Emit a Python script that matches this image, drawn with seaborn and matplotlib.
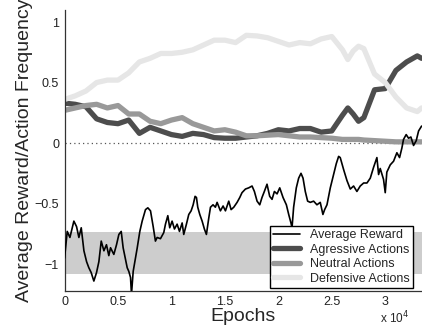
import numpy as np
import pandas as pd
import matplotlib
matplotlib.use("Agg")
import matplotlib.pyplot as plt
import seaborn as sns
from matplotlib.ticker import FuncFormatter

# ── Data ─────────────────────────────────────────────────────
reward_epochs = [
    0, 250, 500, 870, 1120, 1340, 1560, 1810, 2060, 2270, 2490, 2740, 2990,
    3210, 3430, 3680, 3920, 4140, 4300, 4610, 4860, 5080, 5300, 5480, 5700,
    5860, 6010, 6170, 6260, 6420, 6540, 6790, 7040, 7260, 7570, 7790, 8040,
    8290, 8500, 8660, 8970, 9280, 9440, 9660, 9840, 10060, 10280, 10530,
    10750, 11000, 11150, 11400, 11620, 11840, 12030, 12210, 12340, 12460,
    12650, 12870, 13080, 13270, 13490, 13650, 13890, 14110, 14270, 14580,
    14830, 15050, 15360, 15580, 15830, 16140, 16390, 16600, 16920, 17230,
    17540, 17760, 18010, 18260, 18470, 18690, 18940, 19190, 19410, 19630,
    19880, 20130, 20440, 20750, 20970, 21180, 21280, 21430, 21680, 21900,
    22120, 22310, 22520, 22740, 22990, 23300, 23610, 23920, 24170, 24330,
    24550, 24860, 25170, 25420, 25640, 25790, 26110, 26420, 26730, 27040,
    27350, 27660, 27980, 28290, 28600, 28910, 29220, 29380, 29530, 29840,
    30000, 30150, 30470, 30780, 31090, 31340, 31560, 31710, 31960, 32180,
    32400, 32650, 32900, 33120, 33400,
]
reward = [
    -0.95, -0.73, -0.78, -0.645, -0.69, -0.78, -0.70, -0.89, -0.98, -1.03,
    -1.07, -1.14, -1.07, -0.98, -0.81, -0.89, -0.84, -0.93, -0.865, -0.92,
    -0.84, -0.755, -0.73, -0.865, -0.96, -1.03, -1.06, -1.11, -1.25, -1.06,
    -1.00, -0.87, -0.73, -0.645, -0.55, -0.535, -0.56, -0.69, -0.81, -0.78,
    -0.79, -0.74, -0.67, -0.60, -0.70, -0.645, -0.71, -0.67, -0.73, -0.66,
    -0.755, -0.67, -0.59, -0.56, -0.51, -0.44, -0.45, -0.53, -0.59, -0.645,
    -0.71, -0.755, -0.62, -0.53, -0.51, -0.53, -0.49, -0.56, -0.52, -0.56,
    -0.48, -0.55, -0.53, -0.49, -0.45, -0.41, -0.38, -0.37, -0.355, -0.40,
    -0.48, -0.51, -0.45, -0.40, -0.34, -0.44, -0.465, -0.40, -0.42, -0.37,
    -0.45, -0.51, -0.59, -0.66, -0.70, -0.53, -0.37, -0.29, -0.25, -0.29,
    -0.40, -0.48, -0.49, -0.48, -0.51, -0.49, -0.59, -0.55, -0.51, -0.37,
    -0.26, -0.17, -0.11, -0.12, -0.22, -0.31, -0.38, -0.355, -0.40, -0.355,
    -0.33, -0.33, -0.29, -0.20, -0.12, -0.26, -0.21, -0.30, -0.41, -0.24,
    -0.18, -0.15, -0.08, -0.12, -0.04, 0.03, 0.07, 0.04, 0.05, -0.02, 0.02,
    0.10, 0.14,
]

action_epochs = [
    0, 1000, 2000, 3000, 4000, 5000, 6000, 7000, 8000, 9000, 10000, 11000,
    12000, 13000, 14000, 15000, 16000, 17000, 18000, 19000, 20000, 21000,
    22000, 23000, 24000, 25000, 26000, 26500, 27000, 27500, 28000, 29000,
    30000, 31000, 32000, 33000, 33400,
]
agressive = [
    0.33, 0.32, 0.30, 0.20, 0.17, 0.16, 0.19, 0.08, 0.13, 0.10, 0.07, 0.055,
    0.08, 0.07, 0.045, 0.04, 0.04, 0.05, 0.06, 0.08, 0.11, 0.10, 0.12, 0.12,
    0.09, 0.10, 0.23, 0.29, 0.24, 0.18, 0.21, 0.44, 0.45, 0.60, 0.67, 0.72,
    0.70,
]
neutral = [
    0.27, 0.29, 0.31, 0.32, 0.29, 0.31, 0.24, 0.24, 0.18, 0.16, 0.19, 0.21,
    0.16, 0.13, 0.10, 0.11, 0.09, 0.06, 0.06, 0.065, 0.07, 0.06, 0.05, 0.05,
    0.045, 0.04, 0.03, 0.03, 0.03, 0.03, 0.025, 0.02, 0.015, 0.01, 0.01,
    0.01, 0.01,
]
defensive = [
    0.36, 0.39, 0.43, 0.50, 0.52, 0.52, 0.58, 0.67, 0.70, 0.74, 0.74, 0.75,
    0.77, 0.81, 0.85, 0.85, 0.83, 0.89, 0.885, 0.87, 0.84, 0.81, 0.83, 0.82,
    0.86, 0.88, 0.77, 0.69, 0.76, 0.80, 0.78, 0.57, 0.50, 0.38, 0.29, 0.26,
    0.29,
]

# random-play reward band
band_low, band_high = -1.08, -0.735

# ── Plot ─────────────────────────────────────────────────────
sns.set_style("white")
plt.rcParams['font.family'] = ['Liberation Sans', 'DejaVu Sans']

fig = plt.figure(figsize=(4.22, 3.3), dpi=100)
ax = fig.add_axes([0.153, 0.119, 0.846, 0.851])

ax.axhspan(band_low, band_high, color='#cdcdcd', lw=0, zorder=0)
ax.axhline(0, color='#555555', ls=(0, (1, 2.5)), lw=0.9, zorder=1)

sns.lineplot(x=action_epochs, y=agressive, color='#4d4d4d', lw=3.8,
             label='Agressive Actions', ax=ax, zorder=2)
sns.lineplot(x=action_epochs, y=neutral, color='#999999', lw=3.8,
             label='Neutral Actions', ax=ax, zorder=2)
sns.lineplot(x=action_epochs, y=defensive, color='#e6e6e6', lw=3.8,
             label='Defensive Actions', ax=ax, zorder=2)
sns.lineplot(x=reward_epochs, y=reward, color='black', lw=1.2,
             label='Average Reward', ax=ax, zorder=3)

ax.set_xlim(0, 33400)
ax.set_ylim(-1.22, 1.1)
ax.set_xticks([0, 5000, 10000, 15000, 20000, 25000, 30000])
ax.xaxis.set_major_formatter(FuncFormatter(lambda v, p: f"{v / 1e4:g}"))
ax.set_yticks([-1, -0.5, 0, 0.5, 1])
ax.yaxis.set_major_formatter(FuncFormatter(lambda v, p: f"{v:g}".replace('-', '\u2212')))
ax.tick_params(direction='in', length=4, width=0.8, labelsize=9,
               colors='#222222', pad=4)

for side in ['top', 'right']:
    ax.spines[side].set_visible(False)
for side in ['left', 'bottom']:
    ax.spines[side].set_color('#333333')
    ax.spines[side].set_linewidth(0.9)

ax.set_xlabel('Epochs', fontsize=14, labelpad=0)
ax.set_ylabel('Average Reward/Action Frequency', fontsize=14, labelpad=1)
fig.text(0.935, 0.036, 'x 10$^4$', fontsize=8.5, ha='center', va='center')

handles, labels = ax.get_legend_handles_labels()
order = [3, 0, 1, 2]
ax.legend([handles[i] for i in order], [labels[i] for i in order],
          loc='lower right', bbox_to_anchor=(0.976, 0.011), borderaxespad=0,
          fontsize=9, frameon=True, fancybox=False, edgecolor='black',
          framealpha=1, handlelength=2.2, handletextpad=0.8,
          labelspacing=0.2, borderpad=0.25)

plt.savefig('out.png', dpi=100)
